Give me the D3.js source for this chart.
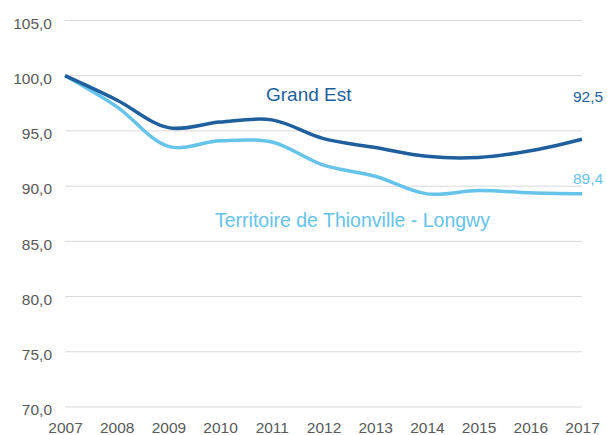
<!DOCTYPE html>
<html>
<head>
<meta charset="utf-8">
<script src="https://cdn.jsdelivr.net/npm/d3@7"></script>
<style>
  body { margin: 0; background: #fff; }
  text { font-family: "Liberation Sans", Arial, sans-serif; }
</style>
</head>
<body>
<div class="chart"></div>
<script>
// Data
var years = [2007, 2008, 2009, 2010, 2011, 2012, 2013, 2014, 2015, 2016, 2017];
var grandEst = [100, 97.8, 95.3, 95.8, 96.0, 94.3, 93.5, 92.7, 92.6, 93.2, 94.25];
var thionville = [100, 97.2, 93.6, 94.1, 94.0, 91.9, 90.9, 89.3, 89.6, 89.4, 89.3];
var yTicks = [70, 75, 80, 85, 90, 95, 100, 105];

var width = 607,
    height = 435;

var colorDark = "#1f5f9d",
    colorLight = "#66c3ea",
    textColor = "#595959";

var svg = d3.select(".chart")
            .append("svg")
            .attr("width", width)
            .attr("height", height);

var x = d3.scaleLinear().domain([2007, 2017]).range([65, 582]);
var y = d3.scaleLinear().domain([70, 105]).range([407, 20.5]);
var fmt = function(v) { return d3.format(".1f")(v).replace(".", ","); };

//Horizontal gridlines
svg.selectAll(".grid")
   .data(yTicks)
   .enter()
   .append("line")
   .attr("x1", x(2007))
   .attr("x2", x(2017))
   .attr("y1", function(d) { return y(d); })
   .attr("y2", function(d) { return y(d); })
   .attr("stroke", "#d9d9d9")
   .attr("stroke-width", 1);

//Y axis labels
var yAxis = d3.axisLeft(y).tickValues(yTicks).tickFormat(fmt).tickSize(0).tickPadding(0);
var gy = svg.append("g").attr("transform", "translate(52,0)").call(yAxis);
gy.select(".domain").remove();
gy.selectAll("text")
  .attr("dy", "0.5em")
  .attr("fill", textColor)
  .style("font-size", "15.5px")
  .style("font-family", "'Liberation Sans', Arial, sans-serif");

//X axis labels
var xAxis = d3.axisBottom(x).tickValues(years).tickFormat(d3.format("d")).tickSize(0).tickPadding(0);
var gx = svg.append("g").attr("transform", "translate(0,421)").call(xAxis);
gx.select(".domain").remove();
gx.selectAll("text")
  .attr("dy", "0.75em")
  .attr("fill", textColor)
  .style("font-size", "15.5px")
  .style("font-family", "'Liberation Sans', Arial, sans-serif");

//Smoothed lines
var line = d3.line()
             .x(function(d, i) { return x(years[i]); })
             .y(function(d) { return y(d); })
             .curve(d3.curveCatmullRom.alpha(0.5));

svg.append("path")
   .datum(thionville)
   .attr("d", line)
   .attr("fill", "none")
   .attr("stroke", colorLight)
   .attr("stroke-width", 3.5);

svg.append("path")
   .datum(grandEst)
   .attr("d", line)
   .attr("fill", "none")
   .attr("stroke", colorDark)
   .attr("stroke-width", 3.5);

//Series labels
svg.append("text")
   .attr("x", 266)
   .attr("y", 100.5)
   .attr("fill", colorDark)
   .style("font-size", "19px")
   .text("Grand Est");

svg.append("text")
   .attr("x", 215)
   .attr("y", 226.5)
   .attr("fill", colorLight)
   .style("font-size", "19.5px")
   .text("Territoire de Thionville - Longwy");

//End value labels
svg.append("text")
   .attr("x", 573)
   .attr("y", 101.5)
   .attr("fill", colorDark)
   .style("font-size", "15.5px")
   .text("92,5");

svg.append("text")
   .attr("x", 573)
   .attr("y", 183.5)
   .attr("fill", colorLight)
   .style("font-size", "15.5px")
   .text("89,4");
</script>
</body>
</html>
